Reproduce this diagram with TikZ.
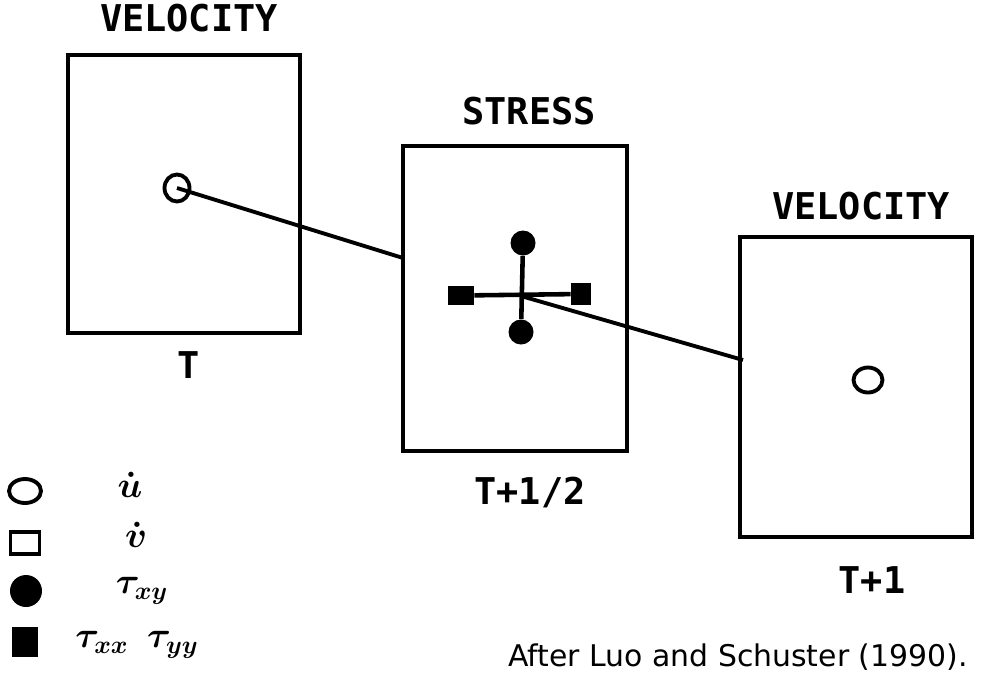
\documentclass[tikz,border=0pt]{standalone}
\usepackage{amsmath,amssymb}
\usepackage{fontspec}
\setmainfont{DejaVu Sans}
\newfontfamily\capsfont{DejaVu Sans Mono}
\usetikzlibrary{positioning,shapes.geometric}

\begin{document}
\begin{tikzpicture}[x=0.02cm, y=-0.02cm,
  box/.style={draw, line width=2.2pt, minimum width=4.64cm, inner sep=0pt},
  lbl/.style={font=\capsfont\bfseries\fontsize{21}{24}\selectfont, inner sep=0pt},
  sym/.style={font=\fontsize{20}{22}\selectfont\boldmath, inner sep=0pt},
  hollow/.style={draw, ellipse, line width=2.2pt, inner sep=0pt},
  dot/.style={circle, fill=black, inner sep=0pt, minimum size=0.5cm},
  blk/.style={rectangle, fill=black, inner sep=0pt},
  link/.style={line width=2.2pt}]
\useasboundingbox (0,0) rectangle (993,687);
% the three time levels
\node[box, minimum height=5.56cm] (vel1) at (184,194) {};
\node[box, minimum width=4.48cm, minimum height=6.1cm] (str) at (515,298.5) {};
\node[box, minimum height=6cm] (vel2) at (856,387) {};
\node[lbl] (vel1t) at (189,18) {VELOCITY};
\node[lbl] (strt) at (529,111) {STRESS};
\node[lbl] (vel2t) at (861,206) {VELOCITY};
\node[lbl] (t0) at (189,365) {T};
\node[lbl] (t12) at (530,493) {T+1/2};
\node[lbl] (t1) at (872,580) {T+1};
% velocity points
\node[hollow, minimum width=0.5cm, minimum height=0.54cm] (u1) at (177,188) {};
\node[hollow, minimum width=0.58cm, minimum height=0.5cm] (u2) at (868,380) {};
% stress cross
\coordinate (cc) at (521,296);
\node[dot] (sxyt) at (523,243) {};
\node[dot] (sxyb) at (521,332) {};
\node[blk, minimum width=0.52cm, minimum height=0.38cm] (sxx) at (461,295.5) {};
\node[blk, minimum width=0.4cm, minimum height=0.44cm] (syy) at (581,294) {};
\draw[line width=2.6pt] (sxyt) -- (sxyb);
\draw[line width=2.6pt] (sxx) -- (syy);
% links between levels
\coordinate (in1) at (403,258);
\coordinate (in2) at (743,360);
\draw[link] (u1.center) -- (in1);
\draw[link] (cc) -- (in2);
% key
\node[hollow, minimum width=0.64cm, minimum height=0.48cm] (k1) at (25,491) {};
\node[draw, line width=2.2pt, inner sep=0pt, minimum width=0.58cm, minimum height=0.44cm] (k2) at (25,543) {};
\node[dot, minimum size=0.64cm] (k3) at (26,591) {};
\node[blk, minimum width=0.52cm, minimum height=0.6cm] (k4) at (25,642) {};
\node[sym] (k1t) at (130,485) {$\dot{u}$};
\node[sym] (k2t) at (136,535) {$\dot{v}$};
\node[sym] (k3t) at (142,591) {$\tau_{xy}$};
\node[sym] (k4t) at (137,645) {$\tau_{xx}\;\,\tau_{yy}$};
\node[font=\fontsize{17}{20}\selectfont, inner sep=0pt] (src) at (738,657) {After Luo and Schuster (1990).};
\end{tikzpicture}
\end{document}
